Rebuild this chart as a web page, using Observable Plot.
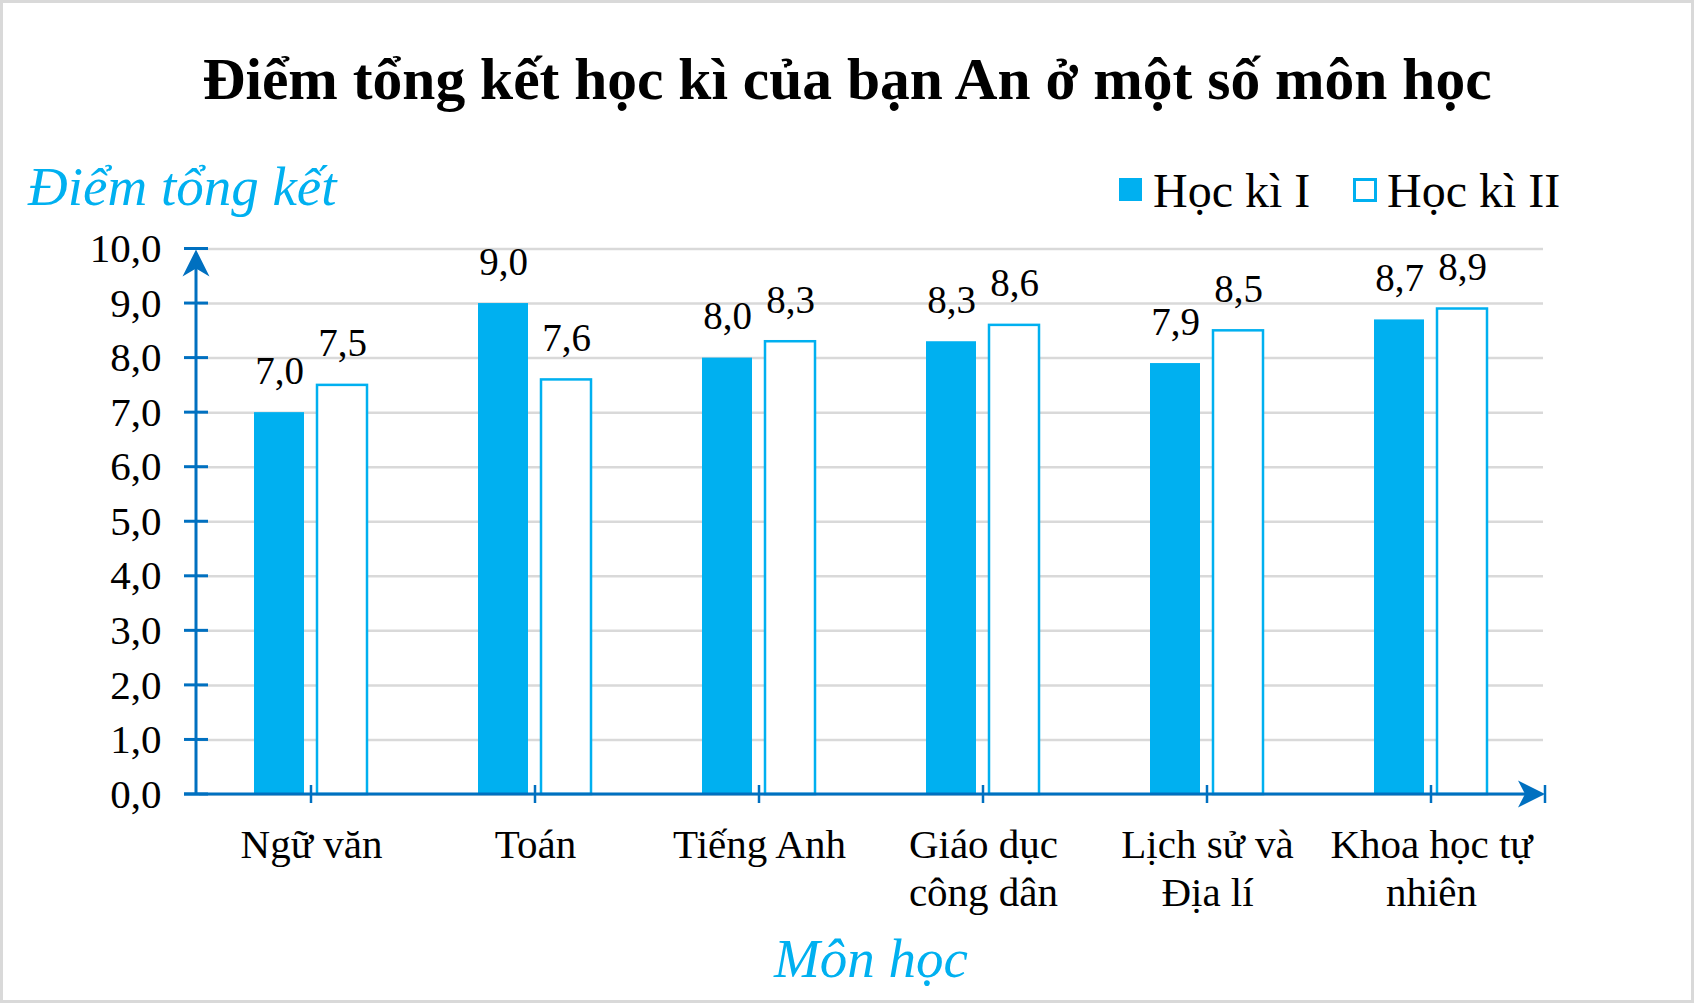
<!DOCTYPE html>
<html>
<head>
<meta charset="utf-8">
<script src="https://cdn.jsdelivr.net/npm/d3@7"></script>
<script src="https://cdn.jsdelivr.net/npm/@observablehq/plot@0.6"></script>
<style>
  html, body { margin: 0; padding: 0; background: white; }
  #wrap { position: relative; width: 1694px; height: 1003px; background: white; overflow: hidden; font-family: "Liberation Serif", "Times New Roman", serif; }
  #border { position: absolute; left: 0; top: 0; width: 1694px; height: 1003px; box-sizing: border-box; border: 3px solid #d9d9d9; pointer-events: none; z-index: 5; }
  .t { position: absolute; white-space: nowrap; line-height: 1; z-index: 3; }
  #chart { position: absolute; left: 0; top: 220px; z-index: 1; }
  .sw { position: absolute; box-sizing: border-box; z-index: 3; }
</style>
</head>
<body>
<div id="wrap">
  <div id="border"></div>
  <div class="t" id="title" style="left:0; width:1694px; text-align:center; top:50px; font-size:59.5px; font-weight:bold; color:#000;">Điểm tổng kết học kì của bạn An ở một số môn học</div>
  <div class="t" style="left:28px; top:159px; font-size:55px; font-style:italic; color:#00b0f0;">Điểm tổng kết</div>
  <div class="sw" style="left:1119px; top:178px; width:23px; height:23px; background:#00b0f0;"></div>
  <div class="t" style="left:1153px; top:167px; font-size:48px; color:#000;">Học kì I</div>
  <div class="sw" style="left:1353px; top:178px; width:24px; height:24px; background:white; border:3px solid #00b0f0;"></div>
  <div class="t" style="left:1387px; top:167px; font-size:48px; color:#000;">Học kì II</div>
  <div class="t" style="left:871px; top:931px; transform:translateX(-50%); font-size:55px; font-style:italic; color:#00b0f0;">Môn học</div>
  <div id="chart"></div>
</div>
<script>
// ---- data ----
const subjects = ["Ngữ văn", "Toán", "Tiếng Anh", "Giáo dục công dân", "Lịch sử và Địa lí", "Khoa học tự nhiên"];
const subjectLabels = ["Ngữ văn", "Toán", "Tiếng Anh", "Giáo dục\ncông dân", "Lịch sử và\nĐịa lí", "Khoa học tự\nnhiên"];
const semesters = ["Học kì I", "Học kì II"];
const hocKi1 = [7.0, 9.0, 8.0, 8.3, 7.9, 8.7];
const hocKi2 = [7.5, 7.6, 8.3, 8.6, 8.5, 8.9];
const yTicks = [0, 1, 2, 3, 4, 5, 6, 7, 8, 9, 10];

const BAR = "#00b0f0";
const AXIS = "#0070c0";
const GRID = "#d9d9d9";

const fmt = v => d3.format(".1f")(v).replace(".", ",");
const labelOf = new Map(subjects.map((s, i) => [s, subjectLabels[i]]));

const rows = subjects.flatMap((s, i) => [
  {subject: s, sem: semesters[0], value: hocKi1[i]},
  {subject: s, sem: semesters[1], value: hocKi2[i]}
]);

const plot = Plot.plot({
  width: 1694,
  height: 720,
  marginLeft: 196,
  marginRight: 149,
  marginTop: 28.5,
  marginBottom: 146,
  style: {fontFamily: "Liberation Serif, Times New Roman, serif", fontSize: "39px", background: "transparent", color: "black", overflow: "visible"},
  fx: {domain: subjects, padding: 0, axis: null},
  x: {domain: semesters, paddingInner: 0.2, paddingOuter: 0.86, axis: null},
  y: {domain: [0, 10]},
  marks: [
    Plot.gridY(yTicks, {stroke: GRID, strokeOpacity: 1, strokeWidth: 2.5}),
    Plot.barY(rows.filter(d => d.sem === semesters[0]), {fx: "subject", x: "sem", y: "value", fill: BAR}),
    Plot.barY(rows.filter(d => d.sem === semesters[1]), {fx: "subject", x: "sem", y: "value", fill: "white", stroke: BAR, strokeWidth: 2.5}),
    Plot.text(rows, {fx: "subject", x: "sem", y: "value", text: d => fmt(d.value), dy: -41.5, fontSize: 39, fill: "black"}),
    Plot.axisY(yTicks, {tickSize: 0, tickPadding: 38, tickFormat: fmt, fontSize: 41, fill: "black", label: null}),
    Plot.text(subjects, {fx: d => d, text: d => labelOf.get(d), frameAnchor: "bottom", lineAnchor: "top", dy: 29, fontSize: 41, lineHeight: 1.17, fill: "black"})
  ]
});

document.getElementById("chart").appendChild(plot);

// ---- axis lines, ticks and arrowheads drawn from Plot's own scales ----
const svgEl = plot.tagName.toLowerCase() === "svg" ? plot : plot.querySelector("svg");
const svg = d3.select(svgEl);
const ys = plot.scale("y");
const fxs = plot.scale("fx");
const [xa, xb] = d3.extent(fxs.range);
const bw = fxs.bandwidth != null ? fxs.bandwidth : (xb - xa) / subjects.length;
const y0 = ys.apply(0), yTop = ys.apply(10);

const g = svg.append("g");
for (const v of yTicks) {
  g.append("line").attr("x1", xa - 12).attr("x2", xa + 12)
    .attr("y1", ys.apply(v)).attr("y2", ys.apply(v))
    .attr("stroke", AXIS).attr("stroke-width", 3);
}
for (const s of subjects) {
  const c = fxs.apply(s) + bw / 2;
  g.append("line").attr("x1", c).attr("x2", c).attr("y1", y0 - 9).attr("y2", y0 + 9)
    .attr("stroke", AXIS).attr("stroke-width", 2.5);
}
g.append("line").attr("x1", xb).attr("x2", xb).attr("y1", y0 - 9).attr("y2", y0 + 9)
  .attr("stroke", AXIS).attr("stroke-width", 2.5);
g.append("line").attr("x1", xa).attr("x2", xa).attr("y1", y0).attr("y2", yTop + 10)
  .attr("stroke", AXIS).attr("stroke-width", 3);
g.append("line").attr("x1", xa - 12).attr("x2", xb - 10).attr("y1", y0).attr("y2", y0)
  .attr("stroke", AXIS).attr("stroke-width", 3);
g.append("path").attr("fill", AXIS)
  .attr("d", `M${xa},${yTop + 1}L${xa - 13.5},${yTop + 28}L${xa},${yTop + 20}L${xa + 13.5},${yTop + 28}Z`);
g.append("path").attr("fill", AXIS)
  .attr("d", `M${xb},${y0}L${xb - 27},${y0 - 13.5}L${xb - 20},${y0}L${xb - 27},${y0 + 13.5}Z`);
</script>
</body>
</html>
